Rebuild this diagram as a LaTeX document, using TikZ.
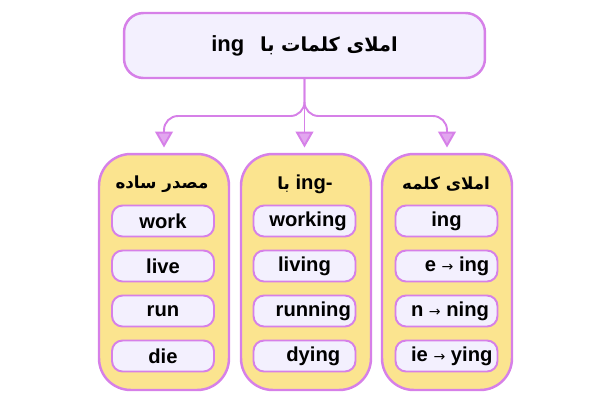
\documentclass[tikz,border=0pt]{standalone}
\usepackage{fontspec}
\setmainfont{Liberation Sans}
\newfontfamily\farsi[Script=Arabic]{DejaVu Sans}
\newfontfamily\symb{DejaVu Sans}
\usetikzlibrary{arrows.meta}
\TeXXeTstate=1
\definecolor{violetline}{RGB}{214,128,232}
\definecolor{lavender}{RGB}{243,240,254}
\definecolor{sand}{RGB}{251,228,143}
\newcommand{\fa}[1]{{\farsi\bfseries\beginR #1\endR}}
\newcommand{\toarr}{ {\symb\mdseries\footnotesize →} }

\begin{document}
\begin{tikzpicture}[x=0.02cm,y=-0.02cm]
                \useasboundingbox (0,0) rectangle (600,400);
                \tikzstyle{every node}=[font=\bfseries\fontsize{11.5}{13}\selectfont]
                \tikzstyle{titlebox}=[draw=violetline,fill=lavender,line width=1.4pt,rounded corners=11pt,minimum width=7.22cm,minimum height=1.3cm,font=\bfseries\fontsize{12.5}{14}\selectfont]
                \tikzstyle{column}=[draw=violetline,fill=sand,line width=1.4pt,rounded corners=18pt,minimum width=2.6cm,minimum height=4.72cm]
                \tikzstyle{word}=[draw=violetline,fill=lavender,line width=1.1pt,rounded corners=6pt,minimum width=2.04cm,minimum height=0.62cm,inner sep=0pt]
                \tikzstyle{head}=[font=\bfseries\fontsize{9.5}{11}\selectfont]
                \tikzstyle{conn}=[draw=violetline,line width=1.1pt,rounded corners=8pt,-{Triangle[width=10pt,length=9pt,fill=violetline!70]},shorten >=3pt]

                \node[titlebox] (title) at (304.5,45.5) {ing\hspace{9pt}{\fontsize{11}{13}\selectfont\fa{املای کلمات با}}};

                \node[column] (c1) at (164,272) {};
                \node[column] (c2) at (306,272) {};
                \node[column] (c3) at (447,272) {};

                \node[head] (h1) at (162,184) {\fa{مصدر ساده}};
                \node (h2) at (305,184) {{\fontsize{9.5}{11}\selectfont\fa{با}} ing-};
                \node[head] (h3) at (446,184) {\fa{املای کلمه}};

                \node[word] (w1) at (163,221) {work};
                \node[word] (w2) at (163,266) {live};
                \node[word] (w3) at (163,311) {run};
                \node[word] (w4) at (163,356) {die};

                \node[word] (g1) at (304.5,221) {\hspace{4pt}working};
                \node[word] (g2) at (304.5,266) {living};
                \node[word] (g3) at (304.5,311) {\hspace{10pt}running};
                \node[word] (g4) at (304.5,356) {\hspace{10pt}dying};

                \node[word] (r1) at (446.5,221) {ing};
                \node[word] (r2) at (446.5,266) {\hspace{12pt}e\toarr ing};
                \node[word] (r3) at (446.5,311) {\hspace{4pt}n\toarr ning};
                \node[word] (r4) at (446.5,356) {\hspace{6pt}ie\toarr ying};

                \coordinate (j) at (304.5,116);
                \draw[conn] (title.south) -- (j) -- (c1.north|-j) -- (c1.north);
                \draw[conn] (title.south) -- (j) -- (c3.north|-j) -- (c3.north);
                \draw[conn] (title.south) -- (c2.north-|title.south);
            \end{tikzpicture}
\end{document}
